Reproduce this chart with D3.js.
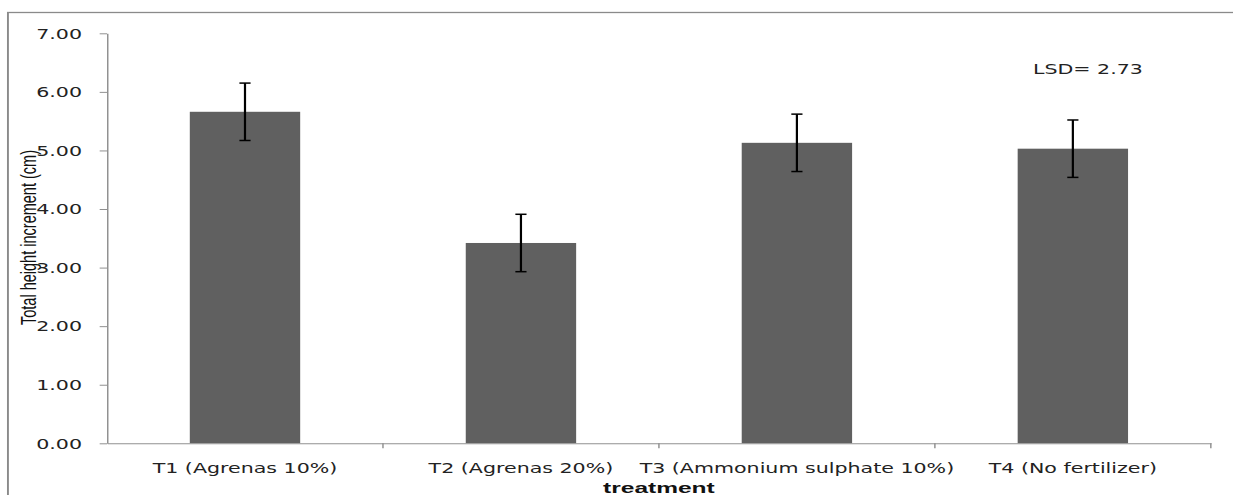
<!DOCTYPE html>
<html>
<head>
<meta charset="utf-8">
<script src="https://cdn.jsdelivr.net/npm/d3@7"></script>
<style>
  html, body { margin: 0; padding: 0; background: #fff; }
  svg { display: block; }
</style>
</head>
<body>
<div id="chart"></div>
<script>
// data
const categories = ["T1 (Agrenas 10%)", "T2 (Agrenas 20%)", "T3 (Ammonium sulphate 10%)", "T4 (No fertilizer)"]
const values = [5.66, 3.42, 5.13, 5.03]
const errors = [0.49, 0.49, 0.49, 0.49]
const yTicks = [0, 1, 2, 3, 4, 5, 6, 7]
const lsdLabel = "LSD= 2.73"
const yTitle = "Total height increment (cm)"
const xTitle = "treatment"

// the picture is stretched sideways, so draw in narrower units and stretch the svg
const W = 1233, H = 495, K = 1.47
const vw = W / K

const margin = { top: 33.3, left: 72.8, right: vw - 823.7, bottom: H - 443.3 }

const svg = d3.select("#chart")
  .append("svg")
  .attr("width", W)
  .attr("height", H)
  .attr("viewBox", "0 0 " + vw + " " + H)
  .attr("preserveAspectRatio", "none")

// outer chart border (cut by the picture on right and bottom)
svg.append("rect")
  .attr("x", 5.4)
  .attr("y", 12.5)
  .attr("width", vw + 20)
  .attr("height", H + 20)
  .attr("fill", "none")
  .attr("stroke", "#8a8a8a")
  .attr("stroke-width", 1.3)

let x = d3.scaleBand()
  .domain(categories)
  .range([margin.left, vw - margin.right])
  .paddingInner(0.6)
  .paddingOuter(0.3)

let y = d3.scaleLinear()
  .domain([0, 7])
  .range([H - margin.bottom, margin.top])

// bars
svg.append("g")
  .selectAll("rect")
  .data(values)
  .join("rect")
  .attr("x", (d, i) => x(categories[i]))
  .attr("y", d => y(d))
  .attr("width", x.bandwidth())
  .attr("height", d => y(0) - y(d))
  .attr("fill", "#606060")

// error bars
const eb = svg.append("g")
  .attr("stroke", "#000")
  .attr("stroke-width", 1.5)
values.forEach((v, i) => {
  const cx = x(categories[i]) + x.bandwidth() / 2
  const top = y(v + errors[i]), bot = y(v - errors[i])
  eb.append("line").attr("x1", cx).attr("x2", cx).attr("y1", top).attr("y2", bot)
  eb.append("line").attr("x1", cx - 3.8).attr("x2", cx + 3.8).attr("y1", top).attr("y2", top)
  eb.append("line").attr("x1", cx - 3.8).attr("x2", cx + 3.8).attr("y1", bot).attr("y2", bot)
})

// y axis
const yAxis = svg.append("g")
  .attr("transform", "translate(" + margin.left + ",0)")
  .call(d3.axisLeft(y).tickValues(yTicks).tickSize(5).tickSizeOuter(0).tickPadding(12).tickFormat(d3.format(".2f")))
yAxis.selectAll("path, line").attr("stroke", "#909090").attr("stroke-width", 1)
yAxis.selectAll("text")
  .attr("font-family", "DejaVu Sans, Verdana, sans-serif")
  .attr("font-size", 14)
  .attr("fill", "#222")
  .attr("dy", "0.34em")

// x axis, labels from the band scale
const xAxis = svg.append("g")
  .attr("transform", "translate(0," + y(0) + ")")
  .call(d3.axisBottom(x).tickSize(0).tickSizeOuter(0).tickPadding(20))
xAxis.select("path").attr("stroke", "#909090").attr("stroke-width", 1)
xAxis.selectAll("text")
  .attr("font-family", "DejaVu Sans, Verdana, sans-serif")
  .attr("font-size", 14)
  .attr("fill", "#222")

// category boundary ticks
const gap = (x.step() - x.bandwidth()) / 2
const bounds = categories.map(c => x(c) - gap).concat([x(categories[categories.length - 1]) + x.bandwidth() + gap])
xAxis.selectAll(".bound")
  .data(bounds.slice(1))
  .join("line")
  .attr("class", "bound")
  .attr("x1", d => d).attr("x2", d => d)
  .attr("y1", 0).attr("y2", 5)
  .attr("stroke", "#909090")

// axis titles
svg.append("text")
  .attr("transform", "translate(24.2," + 237.5 + ") rotate(-90)")
  .attr("text-anchor", "middle")
  .attr("font-family", "Liberation Sans, Arial, sans-serif")
  .attr("font-size", 15.5)
  .attr("textLength", 175)
  .attr("lengthAdjust", "spacingAndGlyphs")
  .attr("fill", "#111")
  .text(yTitle)

svg.append("text")
  .attr("x", (x.range()[0] + x.range()[1]) / 2)
  .attr("y", 493)
  .attr("text-anchor", "middle")
  .attr("font-family", "Liberation Sans, Arial, sans-serif")
  .attr("font-weight", "bold")
  .attr("font-size", 14)
  .attr("textLength", 76)
  .attr("lengthAdjust", "spacingAndGlyphs")
  .attr("fill", "#111")
  .text(xTitle)

// LSD note
svg.append("text")
  .attr("x", 702.7)
  .attr("y", 74)
  .attr("font-family", "DejaVu Sans, Verdana, sans-serif")
  .attr("font-size", 14)
  .attr("fill", "#222")
  .text(lsdLabel)
</script>
</body>
</html>
